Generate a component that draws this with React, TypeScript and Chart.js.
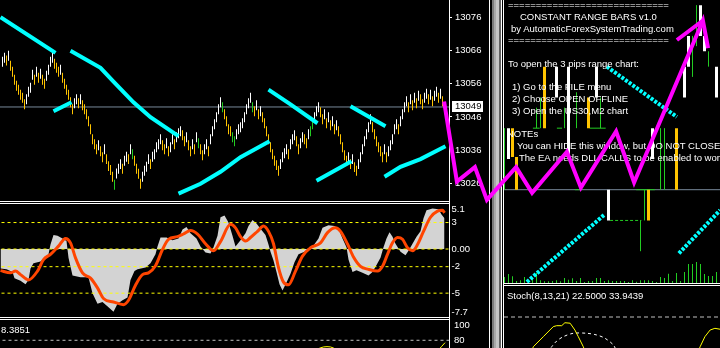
import React, { useEffect, useRef } from 'react';
import { Chart, registerables } from 'chart.js';

Chart.register(...registerables);

const FONT = '"Liberation Sans", Arial, sans-serif';
const WHITE = '#ffffff';
const GOLD = '#ffc400';
const GREEN = '#22cc22';
const CYAN = '#00ffff';
const MAGENTA = '#ff00ff';
const SLATE = '#778899';

// ---------------- left window: range bars (3 points each) ----------------
const mainTickValues = [13076, 13066, 13056, 13046, 13036, 13026];
const mainPriceMin = 13020.7;
const mainPriceMax = 13081.2;
const lastPrice = 13049;
const barRange = 3;
const barMid = [
  13062.6, 13063.8, 13063.0, 13064.4, 13061.4, 13059.6, 13057.2, 13055.4, 13054.2, 13052.7,
  13051.8, 13049.8, 13051.3, 13053.6, 13054.8, 13058.7, 13057.2, 13059.6, 13057.8, 13059.0,
  13057.2, 13056.0, 13058.4, 13060.2, 13062.6, 13063.8, 13062.0, 13060.8, 13059.6, 13060.2,
  13057.8, 13056.0, 13054.2, 13052.7, 13050.4, 13048.3, 13050.1, 13051.3, 13050.1, 13051.3,
  13049.5, 13048.3, 13046.8, 13044.7, 13042.3, 13039.3, 13037.8, 13036.3, 13037.5, 13035.7,
  13033.9, 13036.3, 13033.3, 13031.2, 13030.0, 13028.0, 13025.6, 13029.0, 13030.4, 13031.8,
  13030.4, 13032.8, 13034.0, 13033.3, 13036.3, 13034.8, 13032.8, 13030.4, 13028.9, 13025.9,
  13028.0, 13029.8, 13031.0, 13033.3, 13031.8, 13034.0, 13034.8, 13036.9, 13037.8, 13039.3,
  13037.5, 13036.3, 13038.1, 13035.7, 13036.9, 13039.3, 13037.8, 13039.9, 13041.1, 13041.7,
  13040.5, 13038.7, 13039.9, 13037.5, 13035.7, 13037.8, 13036.3, 13039.9, 13038.1, 13036.3,
  13034.5, 13036.3, 13037.8, 13035.7, 13039.3, 13041.7, 13043.8, 13045.9, 13048.3, 13050.4,
  13048.9, 13046.8, 13044.7, 13042.3, 13041.7, 13039.9, 13038.7, 13040.8, 13042.3, 13042.9,
  13044.1, 13045.9, 13048.3, 13050.1, 13051.8, 13048.9, 13047.7, 13049.5, 13046.8, 13047.7,
  13045.9, 13044.1, 13041.7, 13039.3, 13036.9, 13034.8, 13032.8, 13031.5, 13029.8, 13031.8,
  13033.9, 13035.1, 13036.3, 13034.8, 13037.8, 13039.3, 13040.5, 13038.7, 13036.3, 13038.1,
  13039.9, 13039.3, 13038.1, 13040.8, 13041.7, 13043.8, 13045.9, 13047.7, 13048.9, 13047.4,
  13045.3, 13046.8, 13044.1, 13045.9, 13043.5, 13044.7, 13042.3, 13043.5, 13041.7, 13039.3,
  13036.9, 13034.5, 13032.8, 13033.9, 13031.8, 13033.3, 13030.9, 13029.8, 13031.8, 13033.9,
  13036.3, 13038.7, 13040.8, 13042.9, 13045.3, 13042.9, 13040.8, 13038.7, 13036.9, 13035.7,
  13033.9, 13036.3, 13033.9, 13035.7, 13037.5, 13039.3, 13042.3, 13043.8, 13042.3, 13044.7,
  13046.8, 13048.9, 13050.7, 13048.9, 13051.3, 13049.5, 13051.8, 13050.1, 13052.4, 13051.3,
  13049.8, 13051.8, 13053.0, 13051.3, 13052.7, 13050.7, 13052.4, 13053.6, 13051.8, 13053.0,
  13050.7, 13048.3,
];
const greenBarNumbers = [57, 66, 99, 111, 116, 117, 126, 155, 156, 222];
const cyanSegments = [
  [[0, 13076.0], [27.5, 13065.3]],
  [[26.5, 13047.7], [35.5, 13050.4]],
  [[35, 13065.9], [50, 13060.8], [56.5, 13056.6], [66.5, 13050.4], [75, 13045.9], [89, 13040.2]],
  [[89, 13022.9], [100, 13025.9], [110, 13029.5], [120, 13033.9], [134.5, 13038.7]],
  [[134, 13054.2], [145, 13049.8], [158.5, 13044.1]],
  [[158, 13026.8], [175.5, 13032.7]],
  [[175, 13049.2], [192.5, 13043.2]],
  [[192, 13028.0], [200, 13031.0], [210, 13033.3], [222.5, 13037.2]],
];

// ---------------- left window: oscillator ----------------
const oscMin = -7.7;
const oscMax = 5.1;
const oscTickValues = [5.1, 3, 0, -2, -5, -7.7];
const oscTickLabels = ['5.1', '3', '0.00', '-2', '-5', '-7.7'];
const oscLevels = [3, 0, -2, -5];
const histX = [0, 3, 6, 7, 10, 12.5, 14, 15, 16.5, 20, 22, 24, 25, 26.5, 28.5, 31, 33, 34, 36, 40, 44, 46, 48.5, 51, 54, 56.5, 58.5, 61, 63.5, 65, 67, 68.5, 72.5, 75, 77.5, 78.5, 80, 83, 86, 89, 91, 93, 95, 98, 100, 102.5, 105, 106.5, 108.5, 110, 112, 114, 116, 117.5, 120, 122.5, 124, 126, 128, 130, 132.5, 134, 135, 136.5, 138, 139.5, 141, 143, 145, 147, 149, 152, 154, 156.5, 159, 161, 164, 167, 169, 171, 173, 174, 176, 178, 181, 184, 186, 188, 190, 191.5, 193, 194.5, 196, 197.5, 200, 202.5, 204, 206, 208, 210, 211.5, 213, 216, 219, 220.5, 222];
const histVal = [-2.2, -2.3, -2.6, -3.3, -3.6, -4.0, -3.5, -2.2, -1.6, -1.4, -1.0, -0.6, 0.5, 1.6, 1.5, 1.2, 0.9, -1.0, -3.0, -3.2, -3.2, -5.0, -6.2, -6.0, -6.6, -7.1, -6.2, -5.8, -5.5, -3.5, -2.5, -2.3, -2.1, -1.6, -0.6, 0.3, 1.3, 1.3, 1.0, 1.2, 2.2, 2.5, 1.8, 1.2, 0.3, -0.4, -0.5, 0.2, 1.5, 3.6, 3.8, 3.0, 1.5, 0.3, 1.0, 1.8, 2.6, 3.3, 2.9, 2.3, 1.6, 0.5, -0.3, -1.3, -2.6, -4.0, -4.7, -3.8, -2.8, -1.5, -0.6, -0.3, 0.1, 0.4, 1.2, 2.4, 2.7, 2.6, 2.3, 1.2, 0.2, -1.2, -2.6, -2.4, -2.7, -3.0, -2.6, -1.8, -1.0, 0.2, 1.2, 1.9, 1.4, 0.6, -0.3, -0.7, -0.2, 0.6, 1.4, 2.0, 3.5, 4.4, 4.6, 4.5, 3.9, 3.5];
const sigX = [0, 5, 7.5, 10, 14, 18.5, 21.5, 25, 29, 32.5, 35, 37.5, 41, 45, 48.5, 51.5, 56.5, 61.5, 64, 67.5, 71, 74, 77.5, 81, 84, 88.5, 91.5, 95, 98.5, 102.5, 106.5, 110, 115, 117.5, 120, 122.5, 125, 128.5, 131.5, 134, 136.5, 139, 141.5, 144, 147.5, 151, 155, 160, 163.5, 167.5, 170, 173.5, 176.5, 180, 184, 188.5, 191, 193.5, 196, 198.5, 201, 203.5, 206, 208.5, 211.5, 215, 218.5, 221, 222];
const sigVal = [-2.45, -2.7, -2.5, -2.9, -3.5, -2.5, -1.2, -0.6, 0.33, 1.2, 0.7, -1.0, -2.7, -3.3, -4.4, -5.6, -6.0, -6.3, -5.8, -4.1, -2.9, -2.7, -1.9, -0.05, 1.1, 1.4, 1.7, 2.1, 1.7, 0.6, -0.2, 0.84, 2.8, 2.4, 1.4, 0.9, 1.3, 2.0, 2.6, 2.0, 0.6, -2.1, -3.75, -4.05, -2.5, -0.8, 0.14, 0.7, 1.86, 2.4, 2.0, 0.57, -0.9, -1.96, -2.3, -2.5, -1.96, -0.6, 0.7, 1.3, 1.1, 0.14, -0.2, 0.5, 2.0, 3.6, 4.3, 4.4, 4.1];

// ---------------- left window: lower panel ----------------
const lowerMin = 72;
const lowerMax = 101;
const lowerTickValues = [100, 80];
const lowerLevel = 80;
const lowerValueLabel = '8.3851';
const lowerLineSegments = [
  [[158, 70.5], [161.5, 73.1], [165, 73.1], [168, 70.5]],
  [[219, 70.0], [222.25, 77.5]],
];

// ---------------- right window: offline range chart ----------------
const rightPriceMin = 13039.9;
const rightPriceMax = 13067.5;
const rightLastPrice = 13049;
const rbSlot = [0, 1, 2, 3, 8, 9, 10, 13, 15, 16, 18, 21, 23, 24, 26, 34, 35, 36, 37, 39, 40, 43, 45, 46, 47, 48, 49, 50, 51, 53];
const rbLow = [13049, 13052, 13052.2, 13049, 13055, 13055, 13055, 13058, 13055, 13052, 13055, 13055, 13058, 13055, 13046, 13043, 13046, 13046, 13052, 13049, 13049, 13049, 13058, 13061, 13060, 13063, 13064, 13062.5, 13061, 13058];
const rbHigh = [13055, 13055, 13055, 13052.2, 13057, 13058, 13061, 13061, 13057, 13061, 13058.5, 13058, 13061, 13058, 13049, 13046, 13049, 13049, 13055, 13055, 13055, 13055, 13061, 13064, 13064, 13067, 13067, 13064, 13062.5, 13061];
const rbKind = ['n', 'w', 'g', 'g', 'n', 'n', 'g', 'w', 'n', 'w', 'n', 'g', 'w', 'n', 'w', 'n', 'n', 'g', 'w', 'n', 'n', 'g', 'w', 'w', 'n', 'n', 'w', 'w', 'n', 'w'];
const volumes = [18, 27, 20, 6, 8, 18, 8, 15, 30, 8, 5, 5, 6, 8, 5, 15, 10, 14, 6, 15, 3, 6, 6, 15, 15, 6, 8, 6, 6, 6, 6, 3, 8, 4, 8, 8, 8, 6, 3, 18, 15, 28, 6, 30, 6, 33, 57, 57, 63, 57, 27, 21, 21, 33];
const volumeAxisMax = 849;
const greenTickSegments = [
  [[7.1, 13055], [8.8, 13055]],
  [[13.1, 13055], [14.4, 13055]],
  [[21.3, 13055], [25.3, 13055]],
  [[17.6, 13049], [19.3, 13049]],
  [[32.9, 13049], [37.6, 13049]],
];
const greenDashed = [[26.4, 13046], [34.2, 13046]];
const rightCyanSegments = [
  [[25.6, 13061.0], [43.1, 13056.1]],
  [[5.6, 13040.0], [25.1, 13046.6]],
  [[43.6, 13042.8], [53.9, 13047.0]],
];
const zigzag = [
  [-15.1, 13057.6], [-11.9, 13049.8], [-7.4, 13051.2], [-4.4, 13048.0], [2.9, 13051.2], [6.9, 13048.7],
  [15.6, 13052.7], [19.1, 13049.2], [27.9, 13054.7], [32.4, 13049.7], [49.6, 13065.5], [50.9, 13062.8],
];
const zigzagTail = [[43.1, 13063.6], [49.6, 13065.5]];

// ---------------- right window: stochastic ----------------
const stochMin = 60;
const stochMax = 100;
const stochLevel = 80;
const stochLabel = 'Stoch(8,13,21) 22.5000 33.9439';
const stochMainSegments = [
  [[6.5, 56], [7.2, 60.8], [9.7, 67.3], [12.2, 73.8], [13.05, 74.4], [14.3, 74.4], [15.1, 76.3], [16.4, 76.0], [17.6, 71.6], [18.45, 67.3], [19.7, 60.8], [20.4, 56]],
  [[48.2, 56], [48.9, 60.8], [50.1, 67.3], [51.4, 71.6], [52.6, 72.7], [53.9, 72.1]],
];
const stochSignal = [[10.8, 57], [11.8, 60.8], [13.05, 64.5], [14.7, 67.3], [17.2, 69.5], [20.55, 69.5], [23.05, 68.4], [25.1, 66.3], [27.2, 62.0], [28.2, 57]];

// ---------------- comment text ----------------
const commentLines = [
  '=============================',
  'CONSTANT RANGE BARS v1.0',
  'by AutomaticForexSystemTrading.com',
  '=============================',
  '',
  'To open the 3 pips range chart:',
  '',
  '1) Go to the FILE menu',
  '2) Choose OPEN OFFLINE',
  '3) Open the US30,M2 chart',
  '',
  'NOTEs',
  'You can HIDE this window, but DO NOT CLOSE it!',
  'The EA needs DLL CALLS to be enabled to work!',
];
const commentIndent = [0, 12, 3, 0, 0, 0, 0, 4, 4, 4, 0, -1, 9, 11];

// ---------------- helpers ----------------
type P = number[];
const segData = (segments: P[][]) => {
  const out: any[] = [];
  segments.forEach((s, i) => {
    if (i) out.push({ x: s[0][0], y: null });
    s.forEach((p) => out.push({ x: p[0], y: p[1] }));
  });
  return out;
};
const pts = (xs: number[], ys: number[]) => xs.map((x, i) => ({ x, y: ys[i] }));

const baseOptions = () => ({
  animation: false as const,
  responsive: false,
  maintainAspectRatio: false,
  devicePixelRatio: 1,
  events: [] as any[],
  layout: { padding: 0 },
  plugins: { legend: { display: false }, tooltip: { enabled: false }, title: { display: false } },
});

const hiddenLinear = (min: number, max: number, extra: any = {}) => ({
  type: 'linear', min, max, display: false, offset: false, ...extra,
});

const rightAxis = (min: number, max: number, tickValues: number[], tickLen: number) => ({
  type: 'linear',
  position: 'right',
  min,
  max,
  offset: false,
  afterBuildTicks: (s: any) => { s.ticks = tickValues.map((v) => ({ value: v })); },
  afterFit: (s: any) => { s.width = 41; s.paddingTop = 0; s.paddingBottom = 0; },
  ticks: { display: false },
  grid: { display: tickLen > 0, drawOnChartArea: false, drawTicks: true, tickLength: tickLen, color: WHITE, lineWidth: 1 },
  border: { display: false },
});

const labelPlugin = (values: number[], labels: string[], offset: number) => ({
  id: 'axisLabels',
  afterDraw(chart: any) {
    const { ctx, chartArea } = chart;
    const sc = chart.scales.y;
    ctx.save();
    ctx.font = `9.5px ${FONT}`;
    ctx.fillStyle = WHITE;
    ctx.textBaseline = 'middle';
    ctx.textAlign = 'left';
    values.forEach((v, i) => {
      let y = sc.getPixelForValue(v);
      y = Math.min(Math.max(y, chartArea.top + 5), chartArea.bottom - 5);
      ctx.fillText(labels[i], chartArea.right + offset, y);
    });
    ctx.restore();
  },
});

const priceBoxPlugin = {
  id: 'priceBox',
  afterDraw(chart: any) {
    const { ctx, chartArea } = chart;
    const y = chart.scales.y.getPixelForValue(lastPrice);
    ctx.save();
    ctx.fillStyle = WHITE;
    ctx.fillRect(chartArea.right + 3, Math.round(y) - 6, 31, 11);
    ctx.fillStyle = '#000000';
    ctx.font = `9.5px ${FONT}`;
    ctx.textBaseline = 'middle';
    ctx.textAlign = 'left';
    ctx.fillText(String(lastPrice), chartArea.right + 6, Math.round(y) - 0.5);
    ctx.restore();
  },
};

// ---------------- chart configs ----------------
const LEFT_X_MIN = -0.25;
const LEFT_X_MAX = 224.25;
const RIGHT_X_MIN = -0.125;
const RIGHT_X_MAX = 53.875;
const OVER_X_MIN = -16.125;

function mainConfig(): any {
  const bars = barMid.map((m, i) => ({ x: i + 1, y: [m - barRange / 2, m + barRange / 2] }));
  const colors = barMid.map((m, i) =>
    greenBarNumbers.includes(i + 1) ? GREEN : i === 0 || m >= barMid[i - 1] ? WHITE : GOLD
  );
  return {
    type: 'bar',
    data: {
      datasets: [
        { type: 'line', data: [{ x: LEFT_X_MIN, y: lastPrice }, { x: LEFT_X_MAX, y: lastPrice }], borderColor: SLATE, borderWidth: 1, pointRadius: 0, order: 3 },
        { type: 'bar', data: bars, backgroundColor: colors, barThickness: 1, borderWidth: 0, inflateAmount: 0, order: 2 },
        { type: 'line', data: segData(cyanSegments), borderColor: CYAN, borderWidth: 4, pointRadius: 0, spanGaps: false, order: 1 },
      ],
    },
    options: {
      ...baseOptions(),
      scales: {
        x: hiddenLinear(LEFT_X_MIN, LEFT_X_MAX),
        y: rightAxis(mainPriceMin, mainPriceMax, mainTickValues, 3),
      },
    },
    plugins: [labelPlugin(mainTickValues, mainTickValues.map(String), 6), priceBoxPlugin],
  };
}

function oscConfig(): any {
  return {
    type: 'line',
    data: {
      datasets: [
        { data: pts(histX, histVal), borderWidth: 0, borderColor: 'rgba(0,0,0,0)', backgroundColor: '#d3d3d3', fill: 'origin', pointRadius: 0, order: 3 },
        { data: segData(oscLevels.map((v) => [[0.5, v], [LEFT_X_MAX, v]])), borderColor: '#ffff00', borderWidth: 1, borderDash: [3, 3], pointRadius: 0, spanGaps: false, order: 2 },
        { data: pts(sigX, sigVal), borderColor: '#ff4500', borderWidth: 3, pointRadius: 0, tension: 0.4, cubicInterpolationMode: 'monotone', order: 1 },
      ],
    },
    options: {
      ...baseOptions(),
      scales: {
        x: hiddenLinear(LEFT_X_MIN, LEFT_X_MAX),
        y: rightAxis(oscMin, oscMax, oscTickValues, 0),
      },
    },
    plugins: [labelPlugin(oscTickValues, oscTickLabels, 2.5)],
  };
}

function lowerConfig(): any {
  return {
    type: 'line',
    data: {
      datasets: [
        { data: [{ x: 1, y: lowerLevel }, { x: LEFT_X_MAX, y: lowerLevel }], borderColor: '#c0c0c0', borderWidth: 1, borderDash: [3, 3], pointRadius: 0 },
        { data: segData(lowerLineSegments), borderColor: '#ffff00', borderWidth: 1, pointRadius: 0, spanGaps: false, tension: 0.3 },
      ],
    },
    options: {
      ...baseOptions(),
      scales: {
        x: hiddenLinear(LEFT_X_MIN, LEFT_X_MAX),
        y: rightAxis(lowerMin, lowerMax, lowerTickValues, 0),
      },
    },
    plugins: [labelPlugin(lowerTickValues, lowerTickValues.map(String), 5)],
  };
}

function candleSegments(kind: string) {
  const out: any[] = [];
  rbSlot.forEach((k, i) => {
    if (rbKind[i] !== kind) return;
    out.push({ x: k, y: rbLow[i] }, { x: k, y: rbHigh[i] }, { x: k, y: null });
  });
  return out;
}

function rightConfig(): any {
  return {
    type: 'line',
    data: {
      datasets: [
        { data: [{ x: RIGHT_X_MIN, y: rightLastPrice }, { x: RIGHT_X_MAX, y: rightLastPrice }], borderColor: SLATE, borderWidth: 1, pointRadius: 0, order: 6 },
        { type: 'bar', yAxisID: 'yv', data: volumes.map((v, k) => ({ x: k, y: v })), backgroundColor: GREEN, barThickness: 1, borderWidth: 0, inflateAmount: 0, order: 5 },
        { data: segData(greenTickSegments), borderColor: GREEN, borderWidth: 1, pointRadius: 0, spanGaps: false, order: 4 },
        { data: segData([greenDashed]), borderColor: GREEN, borderWidth: 1, borderDash: [3, 2], pointRadius: 0, order: 4 },
        { data: candleSegments('n'), borderColor: GREEN, borderWidth: 1, pointRadius: 0, spanGaps: false, order: 3 },
        { data: candleSegments('w'), borderColor: WHITE, borderWidth: 3, pointRadius: 0, spanGaps: false, order: 2 },
        { data: candleSegments('g'), borderColor: GOLD, borderWidth: 3, pointRadius: 0, spanGaps: false, order: 2 },
        { data: segData(rightCyanSegments), borderColor: CYAN, borderWidth: 4, borderDash: [3, 1.5], pointRadius: 0, spanGaps: false, order: 1 },
      ],
    },
    options: {
      ...baseOptions(),
      scales: {
        x: hiddenLinear(RIGHT_X_MIN, RIGHT_X_MAX),
        y: hiddenLinear(rightPriceMin, rightPriceMax),
        yv: hiddenLinear(0, volumeAxisMax),
      },
    },
  };
}

function stochConfig(): any {
  return {
    type: 'line',
    data: {
      datasets: [
        { data: [{ x: RIGHT_X_MIN, y: stochLevel }, { x: RIGHT_X_MAX, y: stochLevel }], borderColor: '#c0c0c0', borderWidth: 1, borderDash: [4, 3], pointRadius: 0 },
        { data: segData(stochMainSegments), borderColor: '#ffff00', borderWidth: 1, pointRadius: 0, spanGaps: false },
        { data: segData([stochSignal]), borderColor: WHITE, borderWidth: 1, borderDash: [3, 3], pointRadius: 0, tension: 0.3 },
      ],
    },
    options: {
      ...baseOptions(),
      scales: {
        x: hiddenLinear(RIGHT_X_MIN, RIGHT_X_MAX),
        y: hiddenLinear(stochMin, stochMax),
      },
    },
  };
}

function overlayConfig(): any {
  return {
    type: 'line',
    data: {
      datasets: [
        { data: segData([zigzag, zigzagTail]), borderColor: MAGENTA, borderWidth: 4, pointRadius: 0, spanGaps: false },
      ],
    },
    options: {
      ...baseOptions(),
      scales: {
        x: hiddenLinear(OVER_X_MIN, RIGHT_X_MAX),
        y: hiddenLinear(rightPriceMin, rightPriceMax),
      },
    },
  };
}

function ChartCanvas({ make, left, top, width, height }: any) {
  const ref = useRef<HTMLCanvasElement | null>(null);
  useEffect(() => {
    const chart = new Chart(ref.current as HTMLCanvasElement, make());
    return () => chart.destroy();
  }, []);
  return (
    <canvas
      ref={ref}
      width={width}
      height={height}
      style={{ position: 'absolute', left, top, width, height, display: 'block' }}
    />
  );
}

const line = (left: number, top: number, width: number, height: number, color: string, key: string) => (
  <div key={key} style={{ position: 'absolute', left, top, width, height, background: color }} />
);

export default function App() {
  const textStyle: any = {
    position: 'absolute',
    color: WHITE,
    fontFamily: FONT,
    fontSize: 9.5,
    lineHeight: '12px',
    height: 12,
    whiteSpace: 'pre',
  };
  return (
    <div style={{ position: 'fixed', left: 0, top: 0, width: 720, height: 348, background: '#000', overflow: 'hidden' }}>
      <ChartCanvas make={mainConfig} left={0} top={0} width={490} height={201} />
      <ChartCanvas make={oscConfig} left={0} top={204} width={490} height={113} />
      <ChartCanvas make={lowerConfig} left={0} top={320} width={490} height={28} />
      <ChartCanvas make={rightConfig} left={504} top={0} width={216} height={283} />
      <ChartCanvas make={stochConfig} left={504} top={286} width={216} height={62} />

      {line(0, 201, 449, 1, WHITE, 'h1')}
      {line(0, 203, 449, 1, WHITE, 'h2')}
      {line(0, 317, 449, 1, WHITE, 'h3')}
      {line(0, 319, 449, 1, WHITE, 'h4')}
      {line(449, 0, 1, 348, WHITE, 'v1')}
      {line(489, 0, 1, 348, WHITE, 'f1')}
      {line(492, 0, 2, 348, '#7a7a7a', 'f2')}
      {line(494, 0, 2, 348, '#a8a8a8', 'f3')}
      {line(496, 0, 3, 348, '#c4c4c4', 'f4')}
      {line(499, 0, 2, 348, '#606060', 'f5')}
      {line(501, 0, 1, 348, WHITE, 'f6')}
      {line(503, 0, 1, 348, WHITE, 'v2')}
      {line(503, 283, 217, 1, WHITE, 'h5')}
      {line(503, 285, 217, 1, WHITE, 'h6')}

      <div style={{ ...textStyle, left: 1, top: 324 }}>{lowerValueLabel}</div>
      <div style={{ ...textStyle, left: 507, top: 290 }}>{stochLabel}</div>
      {commentLines.map((t, i) => (
        <div key={'c' + i} style={{ ...textStyle, left: 508 + commentIndent[i], top: Math.round(5 + 11.75 * i - 6) }}>{t}</div>
      ))}

      <ChartCanvas make={overlayConfig} left={440} top={0} width={280} height={283} />
    </div>
  );
}
